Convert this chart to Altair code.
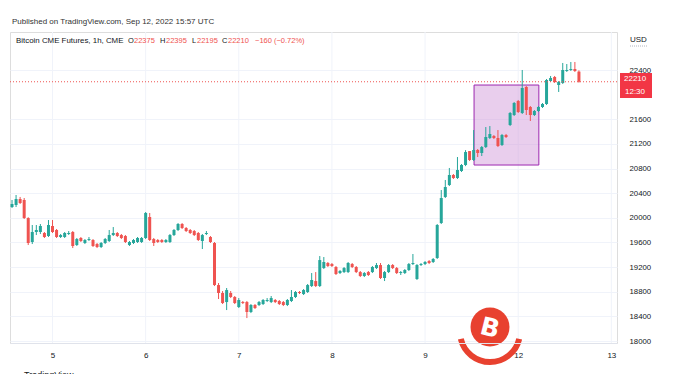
import altair as alt
import pandas as pd

# ---------------- data ----------------
opens = [20176, 20209, 20306, 20290, 19997, 19608, 19770, 19770, 19754, 19705,
         19868, 19803, 19689, 19689, 19738, 19770, 19559, 19673, 19592, 19640,
         19640, 19575, 19527, 19592, 19624, 19721, 19754, 19721,
         19705, 19559, 19592, 19608, 19608, 19673, 20014, 19656, 19640, 19640,
         19608, 19608, 19721, 19803, 19900, 19835, 19803, 19786, 19754, 19624,
         19738, 19689, 19592, 18909, 18780, 18633, 18780, 18715, 18552,
         18633, 18633, 18471, 18585, 18585, 18601, 18650, 18633, 18666, 18650,
         18633, 18585, 18650, 18715, 18796, 18763, 18796, 18893, 18974, 18893,
         19185, 19267, 19250, 19202, 19104, 19120, 19120, 19250, 19202,
         19120, 19056, 19120, 19120, 19185, 19234, 19023, 19120, 19234, 19185,
         19104, 19104, 19153, 19250, 19007, 19234, 19250, 19299, 19283, 19348,
         19916, 20339, 20533, 20696, 20647, 20761, 20858, 21085, 20939, 21102,
         21053, 21150, 21297, 21329, 21297, 21183, 21345, 21508, 21670, 21898,
         21703, 22125, 21800, 21670, 21735, 21800, 21849, 22222, 22287, 22157,
         22190, 22385, 22401, 22417, 22375]
highs = [20290, 20371, 20339, 20322, 20010, 19884, 19884, 19900, 19770, 19965,
         19965, 19819, 19738, 19770, 19786, 19786, 19673, 19689, 19656, 19689,
         19656, 19592, 19608, 19673, 19803, 19851, 19770, 19738,
         19721, 19624, 19656, 19689, 19689, 20095, 20079, 19673, 19656, 19656,
         19656, 19738, 19819, 19916, 19916, 19851, 19819, 19803, 19770, 19738,
         19786, 19705, 19608, 18942, 18812, 18861, 18812, 18731, 18698,
         18650, 18650, 18601, 18601, 18650, 18682, 18698, 18731, 18682, 18666,
         18650, 18682, 18828, 18812, 18812, 18844, 18926, 19104, 19120, 19380,
         19364, 19283, 19267, 19218, 19153, 19202, 19283, 19267, 19218,
         19137, 19120, 19137, 19218, 19267, 19267, 19137, 19250, 19250, 19202,
         19137, 19169, 19267, 19413, 19250, 19267, 19299, 19315, 19348, 19900,
         20452, 20615, 20810, 20712, 20988, 20874, 21100, 21085, 21426, 21118,
         21167, 21475, 21491, 21345, 21426, 21362, 21362, 21719, 21881, 21914,
         22401, 22141, 21816, 21751, 21816, 21865, 22255, 22304, 22304, 22222,
         22515, 22498, 22531, 22531, 22395]
lows = [20160, 20176, 20225, 19981, 19559, 19575, 19721, 19738, 19673, 19689,
        19754, 19673, 19673, 19673, 19721, 19510, 19543, 19608, 19575, 19624,
        19527, 19510, 19510, 19575, 19608, 19705, 19689, 19656,
        19592, 19543, 19575, 19592, 19592, 19656, 19624, 19543, 19592, 19592,
        19592, 19592, 19705, 19786, 19819, 19770, 19738, 19705, 19624, 19494,
        19721, 19592, 18893, 18682, 18601, 18503, 18698, 18601, 18536,
        18601, 18373, 18454, 18520, 18568, 18585, 18633, 18617, 18617, 18585,
        18568, 18568, 18633, 18698, 18763, 18747, 18780, 18877, 18877, 18877,
        19169, 19202, 19202, 19072, 19088, 19104, 19104, 19185, 19104,
        19039, 19039, 19056, 19104, 19169, 19007, 18974, 19104, 19169, 19088,
        19072, 19088, 19137, 19234, 18991, 19218, 19234, 19250, 19267, 19332,
        19900, 20322, 20517, 20631, 20631, 20745, 20840, 20923, 20923, 20988,
        21004, 21134, 21280, 21280, 21150, 21167, 21297, 21491, 21654, 21703,
        21686, 21670, 21573, 21654, 21719, 21784, 21833, 22206, 22190, 22044,
        22174, 22369, 22385, 22369, 22195]
closes = [20225, 20306, 20241, 19997, 19592, 19770, 19803, 19868, 19689, 19884,
          19770, 19689, 19721, 19754, 19754, 19543, 19656, 19624, 19640, 19656,
          19543, 19527, 19592, 19656, 19721, 19754, 19705, 19673,
          19608, 19608, 19640, 19673, 19673, 20079, 19640, 19592, 19608, 19608,
          19640, 19721, 19803, 19900, 19835, 19786, 19754, 19721, 19640, 19721,
          19754, 19608, 18909, 18780, 18617, 18828, 18715, 18617, 18666,
          18617, 18471, 18585, 18536, 18633, 18666, 18666, 18698, 18633, 18601,
          18585, 18666, 18715, 18796, 18780, 18828, 18909, 18991, 18893, 19315,
          19283, 19218, 19218, 19088, 19137, 19185, 19267, 19202, 19120,
          19056, 19104, 19072, 19202, 19234, 19023, 19120, 19234, 19185, 19104,
          19120, 19153, 19250, 19267, 19234, 19250, 19283, 19267, 19332, 19884,
          20322, 20501, 20696, 20647, 20777, 20858, 21069, 20939, 21102, 21053,
          21150, 21313, 21362, 21297, 21167, 21345, 21313, 21703, 21865, 21719,
          22109, 21751, 21670, 21735, 21800, 21849, 22239, 22271, 22206, 22206,
          22401, 22401, 22417, 22385, 22210]

day_ticks = [10, 33, 56, 79, 102, 125, 148]
day_labels = ["5", "6", "7", "8", "9", "12", "13"]
price_ticks = [18000, 18400, 18800, 19200, 19600, 20000, 20400, 20800,
               21200, 21600, 22400]
last_price = 22210
last_time = "12:30"
box_x = [114.1, 130.1]
box_y = [22157, 20858]

title_text = "Published on TradingView.com, Sep 12, 2022 15:57 UTC"
header_parts = ["Bitcoin CME Futures, 1h, CME", "O", "22375", "H", "22395",
                "L", "22195", "C", "22210", "\u2212160 (\u22120.72%)"]

# ---------------- styling ----------------
UP = "#26a69a"
DOWN = "#ef5350"
TXT = "#131722"
FONT = "Liberation Sans"
GRID = "#f0f3fa"
LOGO = "#e8412f"

header_x = [6, 118, 124, 150, 156, 182, 187, 212, 218, 245]
header_fs = [7.9, 7.5, 7.5, 7.5, 7.5, 7.5, 7.5, 7.5, 7.5, 7.5]
header_col = [TXT, TXT, DOWN, TXT, DOWN, TXT, DOWN, TXT, DOWN, DOWN]

df = pd.DataFrame({"i": list(range(len(opens))), "open": opens,
                   "high": highs, "low": lows, "close": closes})
df["dir"] = ["up" if c >= o else "down" for o, c in zip(opens, closes)]
one = pd.DataFrame({"k": [0]})
days_df = pd.DataFrame({"t": day_ticks})

xscale = alt.Scale(domain=[-0.5, 149.4], nice=False, zero=False, padding=0)
yscale = alt.Scale(domain=[17968, 23018], nice=False, zero=False, padding=0)
color = alt.Color("dir:N", scale=alt.Scale(domain=["up", "down"], range=[UP, DOWN]),
                  legend=None)

label_expr = ("[" + ",".join("'%s'" % l for l in day_labels) + "][indexof(["
              + ",".join(str(t) for t in day_ticks) + "], datum.value)]")

# x axis drawn in front of the marks (labels/domain only); its grid is a separate rule layer
xaxis = alt.Axis(values=day_ticks, labelExpr=label_expr, title=None, grid=False,
                 tickSize=0, domainColor="#e0e3eb",
                 labelColor=TXT, labelFontSize=8, labelFont=FONT, labelPadding=8,
                 labelOverlap=False, zindex=1)
yaxis = alt.Axis(orient="right", values=price_ticks, title=None, grid=True,
                 gridColor=GRID, tickSize=0, domain=False, labelColor=TXT,
                 labelFontSize=7.8, labelFont=FONT, labelPadding=12, format="d",
                 labelOverlap=False)

X = lambda **kw: alt.X(scale=xscale, axis=xaxis, **kw)
Y = lambda **kw: alt.Y(scale=yscale, axis=yaxis, **kw)

base = alt.Chart(df)

vgrid = alt.Chart(days_df).mark_rule(color=GRID, strokeWidth=1).encode(
    x=X(field="t", type="quantitative"))

# watermark logo (decoration)
logo_arc = alt.Chart(one).mark_arc(radius=33, radius2=27, theta=1.8, theta2=4.48,
                                   x=480, y=300).encode(color=alt.value(LOGO))
logo_circle = alt.Chart(one).mark_circle(size=1520, opacity=1).encode(
    x=alt.value(480), y=alt.value(295), color=alt.value(LOGO))
logo_b = alt.Chart(one).mark_text(color="white", fontSize=25, fontWeight="bold",
                                  font="DejaVu Sans", angle=14, text="B",
                                  baseline="middle", align="center").encode(
    x=alt.value(480), y=alt.value(296))

box = alt.Chart(one).mark_rect(fill="#ce93d8", fillOpacity=0.45, stroke="#9c27b0",
                               strokeWidth=1).encode(
    x=X(datum=box_x[0], type="quantitative"),
    x2=alt.datum(box_x[1]),
    y=Y(datum=box_y[0], type="quantitative"),
    y2=alt.datum(box_y[1]),
)

wicks = base.mark_rule(strokeWidth=1).encode(
    x=X(field="i", type="quantitative"),
    y=Y(field="low", type="quantitative"),
    y2="high:Q",
    color=color,
)
bodies = base.mark_bar(size=3).encode(
    x=X(field="i", type="quantitative"),
    y=Y(field="open", type="quantitative"),
    y2="close:Q",
    color=color,
)

price_line = alt.Chart(one).mark_rule(color=DOWN, strokeDash=[1, 2], strokeWidth=1).encode(
    y=Y(datum=last_price, type="quantitative"))

price_box = alt.Chart(one).mark_rect(color="#f23645").encode(
    x=alt.value(610), x2=alt.value(642),
    y=Y(datum=22352, type="quantitative"), y2=alt.datum(21946))
price_txt1 = alt.Chart(one).mark_text(color="white", fontSize=8, font=FONT,
                                      align="left", baseline="middle",
                                      text=str(last_price)).encode(
    x=alt.value(614), y=Y(datum=22262, type="quantitative"))
price_txt2 = alt.Chart(one).mark_text(color="white", fontSize=8, font=FONT,
                                      align="left", baseline="middle",
                                      text=last_time).encode(
    x=alt.value(615), y=Y(datum=22045, type="quantitative"))

usd = alt.Chart(one).mark_text(color=TXT, fontSize=8, font=FONT, align="left",
                               baseline="middle", text="USD").encode(
    x=alt.value(620), y=alt.value(8))
usd_line = alt.Chart(one).mark_rule(color="#b2b5be", strokeDash=[1, 1]).encode(
    x=alt.value(620), x2=alt.value(637), y=alt.value(14))

title = alt.Chart(one).mark_text(color="#333333", fontSize=8, font=FONT, align="left",
                                 baseline="middle", text=title_text).encode(
    x=alt.value(2), y=alt.value(-10))

header_layers = []
for t, hx, hf, hc in zip(header_parts, header_x, header_fs, header_col):
    header_layers.append(
        alt.Chart(one).mark_text(color=hc, fontSize=hf, font=FONT, align="left",
                                 baseline="middle", text=t).encode(
            x=alt.value(hx), y=alt.value(9)))

tv = alt.Chart(one).mark_text(color="#131722", fontSize=9, font=FONT, align="left",
                              baseline="top", text="TradingView").encode(
    x=alt.value(14), y=alt.value(339))

chart = alt.layer(
    vgrid, box, wicks, bodies, price_line, price_box, price_txt1,
    price_txt2, usd, usd_line, title, *header_layers, logo_arc, logo_circle, logo_b, tv,
).properties(
    width=607, height=311,
    autosize=alt.AutoSizeParams(type="none"),
    padding={"left": 2, "top": 24, "right": 49, "bottom": 31},
).configure_view(stroke="#e6e8ee").configure_axis(
    labelOverlap=False
).configure(background="white")

chart.save("out.html", embed_options={"renderer": "svg", "actions": False})
